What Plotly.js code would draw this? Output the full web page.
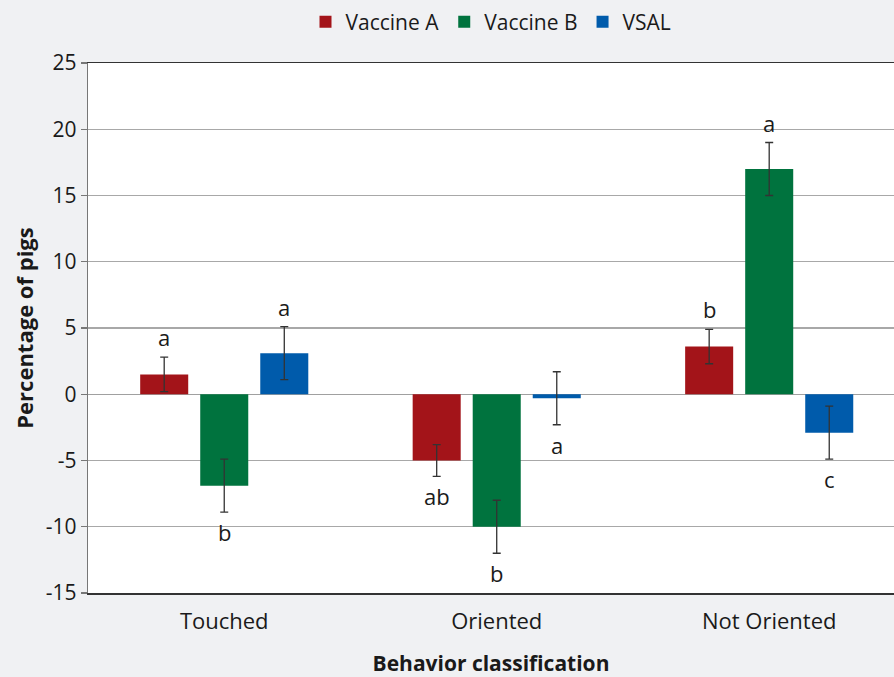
<!DOCTYPE html>
<html>
<head>
<meta charset="utf-8">
<script src="https://cdn.plot.ly/plotly-3.0.1.min.js"></script>
<style>html,body{margin:0;padding:0;background:#f0f1f3;}#chart{width:894px;height:677px;}</style>
</head>
<body>
<div id="chart"></div>
<script>
const categories = ["Touched", "Oriented", "Not Oriented"];
const seriesNames = ["Vaccine A", "Vaccine B", "VSAL"];
const vaccineA = [1.5, -5.0, 3.6];
const vaccineB = [-6.9, -10.0, 17.0];
const vsal = [3.1, -0.3, -2.9];
const errA = [1.3, 1.2, 1.3];
const errB = [2.0, 2.0, 2.0];
const errV = [2.0, 2.0, 2.0];
const lettersA = ["a", "ab", "b"];
const lettersB = ["b", "b", "a"];
const lettersV = ["a", "a", "c"];
const yTickVals = [-15, -10, -5, 0, 5, 10, 15, 20, 25];
const yTickText = ["-15", "-10", "-5", "0", "5", "10", "15", "20", "25"];

const colors = ["#a31419", "#00733e", "#005bab"];
const values = [vaccineA, vaccineB, vsal];
const errs = [errA, errB, errV];
const letters = [lettersA, lettersB, lettersV];
const FONT = "'Open Sans', Lato, sans-serif";
const TXT = "#1a1a1a";

const traces = values.map((v, i) => ({
  type: "bar",
  name: seriesNames[i],
  x: categories,
  y: v,
  marker: {color: colors[i]},
  error_y: {type: "data", array: errs[i], visible: true, color: "#333333", thickness: 1.3, width: 4},
  hoverinfo: "none"
}));

const annotations = [];
const shifts = [-60, 0, 60];
values.forEach((v, i) => {
  v.forEach((val, j) => {
    const up = val >= 0;
    annotations.push({
      x: categories[j],
      y: up ? val + errs[i][j] : val - errs[i][j],
      xref: "x", yref: "y",
      text: letters[i][j],
      showarrow: false,
      xshift: shifts[i],
      yanchor: up ? "bottom" : "top",
      yshift: up ? 3 : -3,
      font: {family: FONT, size: 22, color: TXT}
    });
  });
});

const layout = {
  width: 894, height: 677,
  paper_bgcolor: "#f0f1f3",
  plot_bgcolor: "#ffffff",
  margin: {l: 88, r: 0, t: 63, b: 84, pad: 0},
  barmode: "group",
  bargap: 0.339,
  bargroupgap: 0.2,
  showlegend: true,
  legend: {
    orientation: "h", x: 0.5, xanchor: "center", xref: "paper",
    y: 1.077, yanchor: "middle", yref: "paper",
    font: {family: FONT, size: 21, color: TXT},
    itemwidth: 30, traceorder: "normal",
    bgcolor: "rgba(0,0,0,0)"
  },
  xaxis: {
    type: "category",
    range: [-0.5, 2.458],
    showline: true, linecolor: "#333333", linewidth: 1.5, mirror: true,
    showgrid: false, ticks: "",
    tickfont: {family: FONT, size: 22, color: TXT},
    ticklabelstandoff: 8,
    title: {text: "<b>Behavior classification</b>", font: {family: FONT, size: 21, color: TXT}, standoff: 22}
  },
  yaxis: {
    range: [-15, 25],
    tickmode: "array", tickvals: yTickVals, ticktext: yTickText,
    showline: true, linecolor: "#777777", linewidth: 1.3,
    showgrid: true, gridcolor: "#a8a8a8", gridwidth: 1.3,
    zeroline: true, zerolinecolor: "#a0a0a0", zerolinewidth: 1.5,
    ticks: "outside", ticklen: 6, tickcolor: "#777777", tickwidth: 1.3,
    tickfont: {family: FONT, size: 21, color: TXT},
    title: {text: "<b>Percentage of pigs</b>", font: {family: FONT, size: 22, color: TXT}, standoff: 6}
  },
  annotations: annotations
};

Plotly.newPlot("chart", traces, layout, {displayModeBar: false, staticPlot: true});
</script>
</body>
</html>
